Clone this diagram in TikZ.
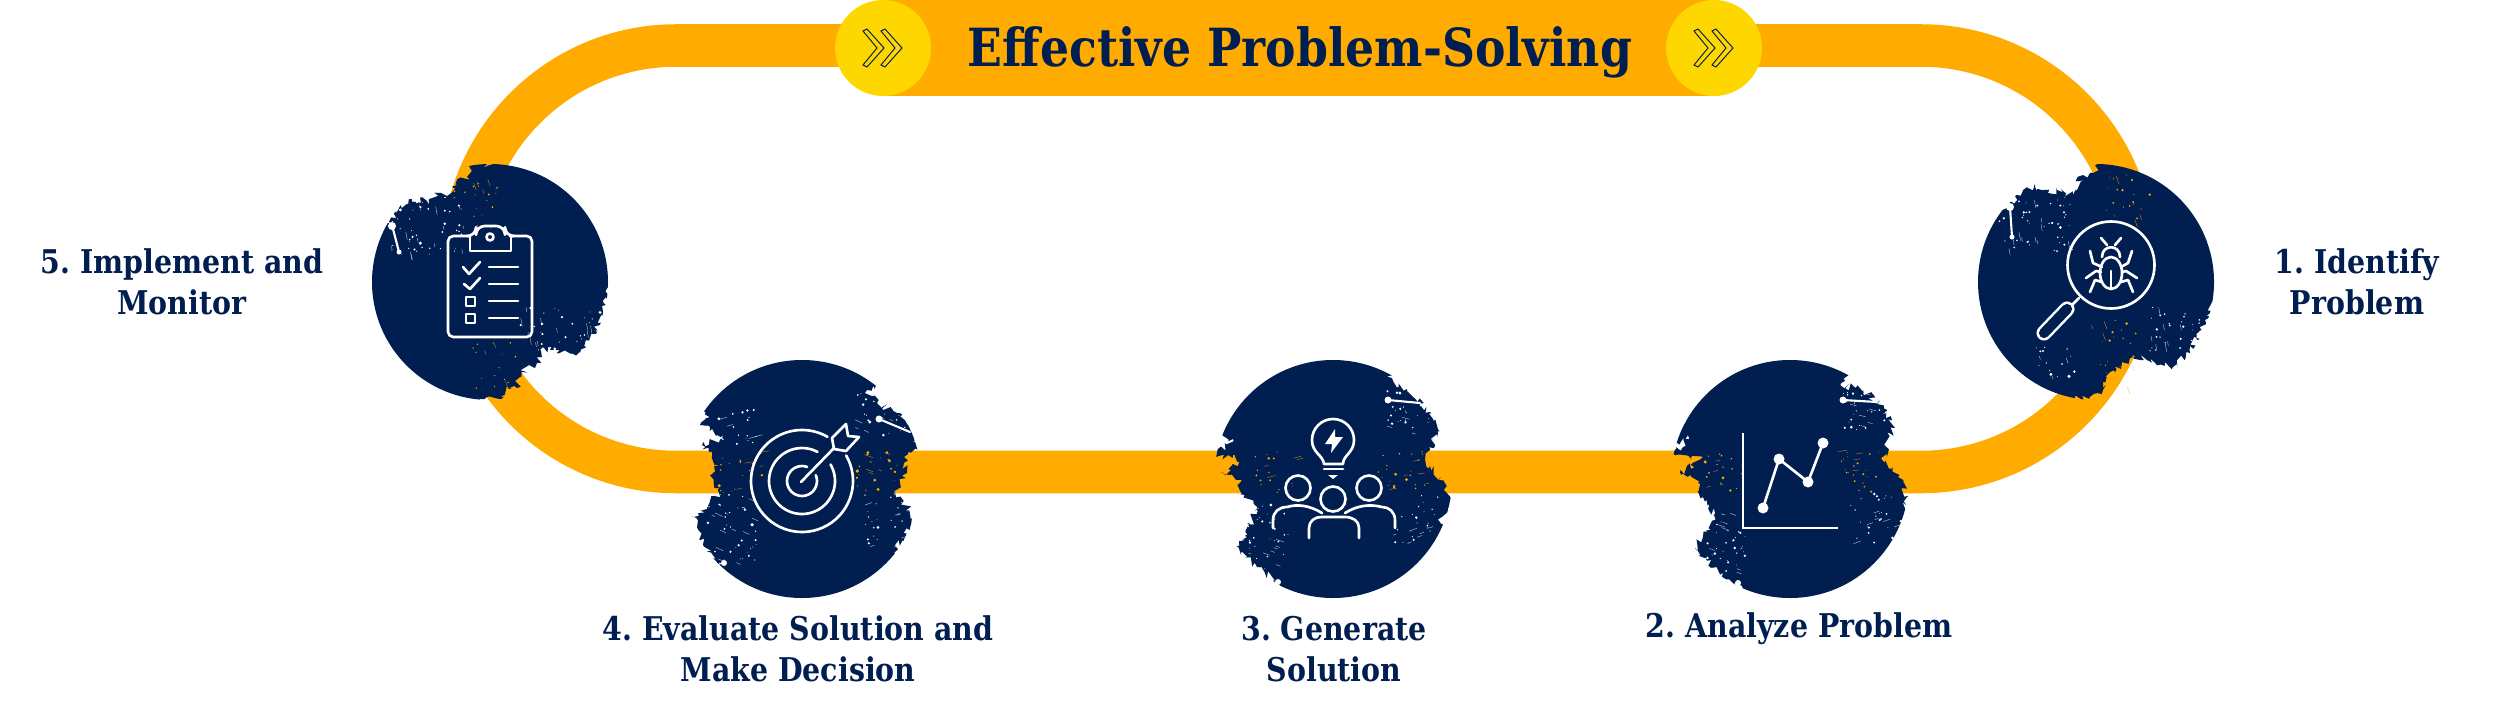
\documentclass[tikz,border=0pt]{standalone}
\usepackage{fontspec}
\usetikzlibrary{decorations.pathmorphing}
\newfontfamily\stepfont{DejaVu Serif}[FakeStretch=0.87]
\frenchspacing
\definecolor{navy}{HTML}{011E50}
\definecolor{bandorange}{HTML}{FFAB00}
\definecolor{chevyellow}{HTML}{FFD700}
\tikzset{
  bandline/.style={draw=bandorange,line width=24.2pt},
  brush/.style={fill=navy,decorate,decoration={random steps,segment length=1.5pt,amplitude=2.3pt}},
  iconline/.style={draw=white,line width=1.5pt,line cap=round,line join=round},
  steplabel/.style={font=\stepfont\bfseries\fontsize{18.6}{23.2}\selectfont,text=navy,align=center,inner sep=0pt},
  chevron/.style={draw=navy,line width=0.55pt,line join=miter},
  gash/.style={draw=white,line width=1.2pt,line cap=round}
}
% random dots and scratches inside a box
\newcommand{\specks}[7]{%
  \foreach \k in {1,...,#5}{%
    \pgfmathsetmacro{\px}{#1+(#3-#1)*rnd}%
    \pgfmathsetmacro{\py}{#2+(#4-#2)*rnd}%
    \pgfmathsetmacro{\pr}{0.4+1.5*rnd*rnd}%
    \fill[#6] (\px,\py) circle[radius=\pr];
    \ifnum\numexpr\k-\k/4*4\relax=0
      \pgfmathsetmacro{\qx}{#1+(#3-#1)*rnd}%
      \pgfmathsetmacro{\qy}{#2+(#4-#2)*rnd}%
      \pgfmathsetmacro{\ql}{3+6*rnd}%
      \draw[#6,line width=0.25pt,opacity=0.7] (\qx,\qy) -- ++(#7:\ql);
    \fi
  }%
}
\newcommand{\chevrons}[1]{%
  \foreach \s in {-10,8}{%
    \draw[chevron,shift={(#1)},xshift=\s*0.2mm] (-10,-17) -- (-6,-19) -- (11,0) -- (-6,19) -- (-10,17) -- (4,0) -- cycle;
  }%
}
\begin{document}
\begin{tikzpicture}[x=0.2mm,y=-0.2mm]
  \useasboundingbox (0,0) rectangle (2500,708);
  \pgfmathsetseed{4711}
  % step centres
  \coordinate (identify) at (2096,282);
  \coordinate (analyze) at (1790,479);
  \coordinate (generate) at (1333,479);
  \coordinate (evaluate) at (802,479);
  \coordinate (monitor) at (490,282);
  \coordinate (chevleft) at (883,48);
  \coordinate (chevright) at (1714,48);
  \coordinate (bandleft) at (883,45.5);
  \coordinate (bandtl) at (676,45.5);
  \coordinate (bandbl) at (676,472);
  \coordinate (bandbr) at (1921,472);
  \coordinate (bandtr) at (1921,45.5);
  \coordinate (bandright) at (1714,45.5);

  % band
  \draw[bandline] (bandleft) -- (bandtl) arc[start angle=270,end angle=90,radius=213.25]
    -- (bandbr) arc[start angle=90,end angle=-90,radius=213.25] -- (bandright);

  % banner
  \fill[bandorange] (883,0) rectangle (1714,96);
  \fill[chevyellow] (chevleft) circle[radius=48];
  \fill[chevyellow] (chevright) circle[radius=48];
  \chevrons{chevleft}
  \chevrons{chevright}
  \node[font=\stepfont\bfseries\fontsize{29.9}{36}\selectfont,text=navy,inner sep=0pt] (title) at (1300,52) {Effective Problem-Solving};

  % step 5
  \begin{scope}[shift={(monitor)}]
    \clip (0,0) circle[radius=118];
    \fill[brush] (7,-118) -- (-17,-118) -- (-23,-105) -- (-38,-95) -- (-42,-83) -- (-52,-89)
      -- (-63,-81) -- (-78,-83) -- (-100,-62) -- (-109,-45) -- (-180,-70) -- (-180,190) -- (-15,190)
      -- (-10,117) -- (13,115) -- (16,105) -- (27,106) -- (30,90) -- (47,81) -- (53,65) -- (67,71)
      -- (90,70) -- (107,48) -- (113,30) -- (115,15) -- (118,5) -- (190,5) -- (190,-190) -- (10,-190) -- cycle;
    \specks{-108}{-80}{-25}{-25}{44}{white}{80}
    \specks{30}{25}{115}{72}{40}{white}{80}
    \specks{-40}{-108}{10}{-55}{18}{bandorange}{70}
    \specks{-20}{58}{30}{112}{16}{bandorange}{70}
    \draw[gash] (-98,-57) -- (-91,-30);
    \fill[white] (-98,-56) circle[radius=4] (-91,-30) circle[radius=2.5];
  \end{scope}
  \begin{scope}[shift={(monitor)},iconline]
    \draw[rounded corners=3] (-20,-46) -- (-42,-46) -- (-42,55) -- (42,55) -- (42,-46) -- (20,-46);
    \draw[rounded corners=5] (-20,-46) -- (-14,-46) -- (-14,-56) -- (15,-56) -- (15,-46) -- (20,-46);
    \draw (-20,-46) -- (-20,-31) -- (21,-31) -- (21,-46);
    \draw (0,-45) circle[radius=3.5];
    \draw (-27,-15) -- (-21,-8) -- (-10,-20);
    \draw (-26,2) -- (-20,7) -- (-10,-4);
    \draw (-24,15) rectangle (-15,24);
    \draw (-24,32) rectangle (-15,41);
    \foreach \ly in {-15,2,19,36}{\draw (-1,\ly) -- (28,\ly);}
  \end{scope}

  % step 1
  \begin{scope}[shift={(identify)}]
    \clip (0,0) circle[radius=118];
    \fill[brush] (7,-119) -- (-3,-109) -- (-13,-107) -- (-23,-87) -- (-39,-92) -- (-48,-89)
      -- (-61,-95) -- (-73,-92) -- (-86,-80) -- (-101,-64) -- (-180,-90) -- (-180,190) -- (-25,190)
      -- (-23,115) -- (-13,116) -- (7,108) -- (14,90) -- (37,75) -- (51,78) -- (77,85)
      -- (94,71) -- (109,38) -- (114,31) -- (119,15) -- (190,15) -- (190,-190) -- (10,-190) -- cycle;
    \specks{-100}{-85}{-20}{-30}{44}{white}{80}
    \specks{50}{25}{112}{72}{34}{white}{80}
    \specks{-60}{60}{-20}{95}{14}{white}{70}
    \specks{10}{-108}{54}{-62}{18}{bandorange}{70}
    \specks{-6}{38}{40}{105}{18}{bandorange}{70}
    \draw[gash] (-86,-75) -- (-84,-45);
    \fill[white] (-86,-75) circle[radius=4] (-84,-45) circle[radius=2.5];
  \end{scope}
  \begin{scope}[shift={(identify)},iconline]
    \draw (15,-17) circle[radius=43.5];
    \draw (-17,16) -- (-23,22);
    \draw[line width=8.6pt] (-29,27) -- (-52,51);
    \draw[draw=navy,line width=5.8pt] (-29,27) -- (-52,51);
    \draw (15,-9) ellipse[x radius=11,y radius=16];
    \draw (6,-25) .. controls (6,-38) and (24,-38) .. (24,-25);
    \draw (15,-11) -- (15,6);
    \draw (5,-44) -- (11,-37) (25,-44) -- (19,-37);
    \draw (-6,-31) -- (-3,-19) -- (6,-15) (36,-31) -- (32,-19) -- (25,-15);
    \draw (-10,-4) -- (0,-11) -- (5,-10) (41,-4) -- (30,-11) -- (26,-10);
    \draw (-6,10) -- (-1,-2) -- (6,0) (37,10) -- (32,-2) -- (25,0);
  \end{scope}

  % step 4
  \begin{scope}[shift={(evaluate)}]
    \clip (0,0) circle[radius=119];
    \fill[brush] (-92,-69) -- (-102,-54) -- (-78,-40) -- (-100,-34) -- (-93,-27) -- (-85,-14)
      -- (-92,-4) -- (-82,13) -- (-95,28) -- (-108,38) -- (-102,59) -- (-87,79) -- (-160,110)
      -- (-160,200) -- (160,200) -- (160,110) -- (92,74) -- (108,51) -- (107,31) -- (92,14)
      -- (105,-6) -- (102,-22) -- (116,-29) -- (112,-46) -- (95,-66) -- (75,-76) -- (65,-89)
      -- (160,-120) -- (160,-200) -- (-160,-200) -- (-160,-85) -- cycle;
    \specks{-95}{15}{-45}{90}{40}{white}{25}
    \specks{50}{-90}{105}{-40}{30}{white}{25}
    \specks{60}{15}{105}{70}{24}{white}{-20}
    \specks{-85}{-70}{-45}{-35}{16}{white}{-15}
    \specks{-85}{-28}{-35}{14}{18}{bandorange}{-10}
    \specks{45}{-28}{95}{14}{22}{bandorange}{20}
    \draw[gash] (77,-60) -- (108,-47);
    \fill[white] (77,-60) circle[radius=3.5] (-78,84) circle[radius=3];
  \end{scope}
  \begin{scope}[shift={(evaluate)},iconline]
    \draw ({51*cos(30)},{2-51*sin(30)}) arc[start angle=-30,end angle=300,radius=51];
    \draw ({33*cos(30)},{2-33*sin(30)}) arc[start angle=-30,end angle=298,radius=33];
    \draw ({15*cos(23)},{2-15*sin(23)}) arc[start angle=-23,end angle=290,radius=15];
    \draw (-1,3) -- (32,-31);
    \draw (32,-30) -- (30,-41) -- (44,-55) -- (46,-43) -- (57,-42) -- (44,-28) -- cycle;
  \end{scope}

  % step 3
  \begin{scope}[shift={(generate)}]
    \clip (0,0) circle[radius=119];
    \fill[brush] (-113,-42) -- (-100,-40) -- (-116,-25) -- (-90,-18) -- (-112,-6) -- (-93,4)
      -- (-88,16) -- (-78,31) -- (-86,58) -- (-97,68) -- (-76,88) -- (-53,106) -- (-100,190)
      -- (160,190) -- (160,60) -- (107,44) -- (117,20) -- (108,-2) -- (92,-20) -- (105,-48)
      -- (97,-67) -- (75,-87) -- (55,-102) -- (120,-190) -- (-160,-190) -- (-160,-50) -- cycle;
    \specks{-85}{25}{-45}{95}{34}{white}{20}
    \specks{50}{-90}{100}{-45}{30}{white}{15}
    \specks{60}{15}{105}{65}{24}{white}{-20}
    \specks{-85}{-28}{-35}{14}{16}{bandorange}{-15}
    \specks{45}{-28}{95}{14}{22}{bandorange}{-10}
    \draw[gash] (55,-79) -- (87,-76);
    \fill[white] (55,-79) circle[radius=3.5] (-55,103) circle[radius=3];
  \end{scope}
  \begin{scope}[shift={(generate)},iconline]
    \draw (-9,-15) .. controls (-10,-24) and (-21,-26) .. (-21,-39) arc[start angle=180,end angle=360,radius=21]
      .. controls (21,-26) and (10,-24) .. (10,-15) -- cycle;
    \draw (-9,-10) -- (10,-10);
    \fill[white] (-5,-4) -- (5,-4) -- (0,0) -- cycle;
    \fill[white] (2,-50) -- (-8,-35) -- (-1,-35) -- (-2,-26) -- (10,-42) -- (2,-42) -- cycle;
    \draw (0,20) circle[radius=12.5];
    \draw (-35,9) circle[radius=12.5];
    \draw (36,9) circle[radius=12.5];
    \draw (-24,59) -- (-24,49) .. controls (-24,42) and (-18,38) .. (-12,38) -- (12,38) .. controls (20,38) and (26,42) .. (26,49) -- (26,59);
    \draw (-60,49) -- (-60,41) .. controls (-60,33) and (-54,28) .. (-46,28) .. controls (-36,25) and (-24,26) .. (-11,34);
    \draw (62,49) -- (62,41) .. controls (62,33) and (56,28) .. (49,28) .. controls (37,25) and (25,26) .. (12,34);
  \end{scope}

  % step 2
  \begin{scope}[shift={(analyze)}]
    \clip (0,0) circle[radius=119];
    \fill[brush] (-113,-36) -- (-102,-44) -- (-115,-24) -- (-87,-22) -- (-110,-6) -- (-92,4)
      -- (-87,18) -- (-75,34) -- (-87,58) -- (-95,69) -- (-68,98) -- (-48,108) -- (-100,190)
      -- (160,190) -- (160,60) -- (110,41) -- (117,18) -- (108,-2) -- (92,-19) -- (103,-51)
      -- (97,-69) -- (73,-89) -- (50,-94) -- (120,-190) -- (-160,-190) -- (-160,-45) -- cycle;
    \specks{-85}{25}{-45}{95}{34}{white}{20}
    \specks{50}{-90}{100}{-45}{30}{white}{15}
    \specks{60}{15}{105}{65}{24}{white}{-20}
    \specks{-85}{-28}{-35}{14}{16}{bandorange}{-15}
    \specks{45}{-28}{95}{14}{22}{bandorange}{-10}
    \draw[gash] (53,-79) -- (87,-77);
    \fill[white] (53,-79) circle[radius=3.5] (-52,104) circle[radius=3];
  \end{scope}
  \begin{scope}[shift={(analyze)},iconline]
    \draw[line cap=butt,line join=miter] (-47,-46) -- (-47,49) -- (48,49);
    \draw (-27,29) -- (-11,-20) -- (18,3) -- (33,-36);
    \foreach \dx/\dy in {-27/29,-11/-20,18/3,33/-36}{\fill[white] (\dx,\dy) circle[radius=5.5];}
  \end{scope}

  % labels
  \node[steplabel] (label1) at (2357,282) {1. Identify\\Problem};
  \node[steplabel] (label2) at (1799,629) {2. Analyze Problem};
  \node[steplabel] (label3) at (1334,649) {3. Generate\\Solution};
  \node[steplabel] (label4) at (798,649) {4. Evaluate Solution and\\Make Decision};
  \node[steplabel] (label5) at (182,282) {5. Implement and\\Monitor};
\end{tikzpicture}
\end{document}
